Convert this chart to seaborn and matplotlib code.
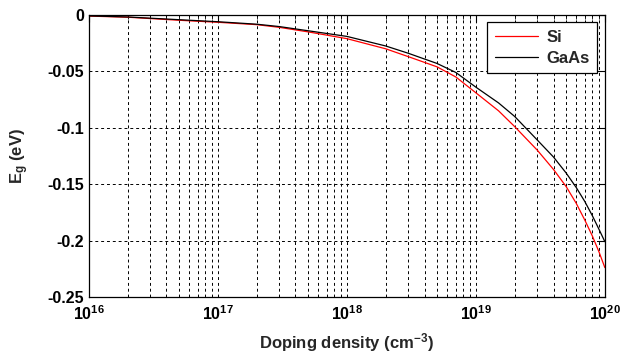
import numpy as np
import pandas as pd
import matplotlib
matplotlib.use('Agg')
import matplotlib.pyplot as plt
import matplotlib.ticker as mticker
import seaborn as sns

# Données
density = [1e16, 2e16, 5e16, 1e17, 2e17, 3e17, 5e17, 1e18, 2e18, 3e18, 5e18,
           7e18, 1e19, 1.5e19, 2e19, 3e19, 4e19, 5e19, 6e19, 7e19, 8e19, 9e19, 1e20]
eg_si = [-0.0010, -0.0020, -0.0047, -0.0065, -0.0086, -0.0110, -0.0150, -0.0210,
         -0.0300, -0.0370, -0.0460, -0.0550, -0.0690, -0.0850, -0.0990, -0.1200,
         -0.1370, -0.1520, -0.1670, -0.1820, -0.1960, -0.2100, -0.2240]
eg_gaas = [-0.0008, -0.0018, -0.0042, -0.0060, -0.0082, -0.0103, -0.0140, -0.0190,
           -0.0275, -0.0340, -0.0430, -0.0510, -0.0640, -0.0780, -0.0900, -0.1110,
           -0.1260, -0.1400, -0.1530, -0.1655, -0.1780, -0.1900, -0.2010]
materials = ['Si', 'GaAs']
colors = {'Si': '#ff0000', 'GaAs': '#000000'}
x_ticks = [1e16, 1e17, 1e18, 1e19, 1e20]
y_ticks = [0, -0.05, -0.1, -0.15, -0.2, -0.25]
y_labels = ['0', '-0.05', '-0.1', '-0.15', '-0.2', '-0.25']

df = pd.DataFrame({
    'N': density * 2,
    'Eg': eg_si + eg_gaas,
    'mat': ['Si'] * len(density) + ['GaAs'] * len(density),
})

sns.set_style('white')
plt.rcParams['font.family'] = ['Liberation Sans', 'DejaVu Sans']
plt.rcParams['font.weight'] = 'bold'
plt.rcParams['mathtext.fontset'] = 'custom'
plt.rcParams['mathtext.rm'] = 'Liberation Sans:bold'
plt.rcParams['mathtext.it'] = 'Liberation Sans:bold'
plt.rcParams['mathtext.bf'] = 'Liberation Sans:bold'

fig, ax = plt.subplots(figsize=(6.21, 3.56), dpi=100)
fig.subplots_adjust(left=0.143, right=0.974, top=0.958, bottom=0.166)

sns.lineplot(data=df, x='N', y='Eg', hue='mat', hue_order=materials,
             palette=colors, linewidth=0.9, ax=ax)

ax.set_xscale('log')
ax.set_xlim(1e16, 1e20)
ax.set_ylim(-0.25, 0)
ax.set_xticks(x_ticks)
ax.xaxis.set_major_formatter(mticker.FuncFormatter(
    lambda v, p: '10$^{%d}$' % round(np.log10(v))))
ax.xaxis.set_minor_locator(mticker.LogLocator(base=10, subs=np.arange(2, 10)))
ax.xaxis.set_minor_formatter(mticker.NullFormatter())
ax.set_yticks(y_ticks)
ax.set_yticklabels(y_labels)

for s in ax.spines.values():
    s.set_color('black')
    s.set_linewidth(0.9)

ax.tick_params(which='both', direction='in', top=True, right=True,
               labelsize=11.5, colors='black')
ax.tick_params(which='major', length=5)
ax.tick_params(which='minor', length=3)
ax.tick_params(axis='x', pad=5)

ax.grid(True, which='major', axis='both', color='black', linestyle=(0, (3, 3)),
        linewidth=0.7)
ax.grid(True, which='minor', axis='x', color='black', linestyle=(0, (3, 3)),
        linewidth=0.7)

ax.set_xlabel('Doping density (cm$^{-3}$)', fontsize=12, fontweight='bold',
              labelpad=6)
ax.set_ylabel('E$_{g}$ (eV)', fontsize=12, fontweight='bold', labelpad=12)

leg = ax.legend(loc='upper right', fontsize=12, frameon=True, fancybox=False,
                handlelength=2.6, borderaxespad=0.45, labelspacing=0.35,
                handletextpad=0.5, borderpad=0.45)
leg.get_frame().set_edgecolor('black')
leg.get_frame().set_linewidth(0.9)
leg.get_frame().set_alpha(1)

fig.savefig('out.png', dpi=100)
